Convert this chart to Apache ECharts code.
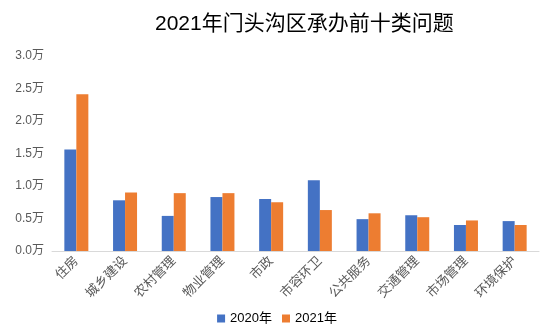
<!DOCTYPE html>
<html><head><meta charset="utf-8">
<script src="https://cdn.jsdelivr.net/npm/echarts@6/dist/echarts.min.js"></script>
<style>html,body{margin:0;padding:0;background:#fff}#c{width:554px;height:334px}</style>
</head><body><div id="c"></div>
<script>
const categories = ['住房','城乡建设','农村管理','物业管理','市政','市容环卫','公共服务','交通管理','市场管理','环境保护'];
const values2020 = [1.56, 0.78, 0.54, 0.83, 0.80, 1.09, 0.49, 0.55, 0.40, 0.46];
const values2021 = [2.41, 0.90, 0.89, 0.89, 0.75, 0.63, 0.58, 0.52, 0.47, 0.40];
const seriesNames = ['2020年','2021年'];
const font = '"Liberation Sans",Arial,"Noto Sans CJK SC",sans-serif';
const chart = echarts.init(document.getElementById('c'));
chart.setOption({
  animation:false,
  title:{text:'2021年门头沟区承办前十类问题',left:150,top:9,
    textStyle:{fontSize:21,fontWeight:'normal',color:'#000',fontFamily:font}},
  legend:{bottom:4,left:'center',itemWidth:8,itemHeight:8,itemGap:10,
    icon:'rect',textStyle:{fontSize:13,color:'#000',fontFamily:font}},
  grid:{left:52,right:15,top:56,bottom:83},
  xAxis:{type:'category',data:categories,
    axisLine:{lineStyle:{color:'#d9d9d9',width:1}},axisTick:{show:false},
    axisLabel:{rotate:45,fontSize:13,color:'#595959',fontFamily:font,margin:8,interval:0}},
  yAxis:{type:'value',min:0,max:3,interval:0.5,
    axisLine:{show:false},axisTick:{show:false},splitLine:{show:false},
    axisLabel:{formatter:v=>v.toFixed(1)+'万',fontSize:12,color:'#595959',fontFamily:font,margin:8}},
  series:[
    {name:seriesNames[0],type:'bar',data:values2020,barWidth:12,barGap:'0%',itemStyle:{color:'#4472c4'}},
    {name:seriesNames[1],type:'bar',data:values2021,barWidth:12,barGap:'0%',itemStyle:{color:'#ed7d31'}}
  ]
});
</script></body></html>
